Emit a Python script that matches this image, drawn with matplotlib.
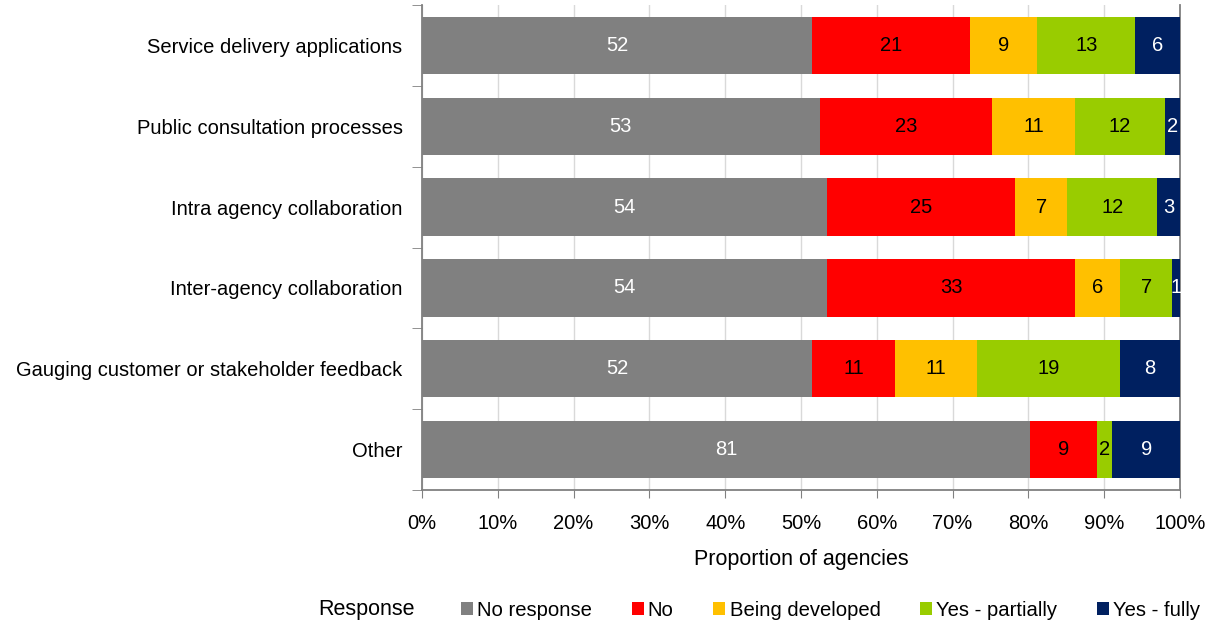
import matplotlib
matplotlib.use("Agg")
import matplotlib.pyplot as plt
import numpy as np

plt.rcParams['font.family'] = ['Liberation Sans', 'DejaVu Sans']

categories = ["Service delivery applications", "Public consultation processes",
              "Intra agency collaboration", "Inter-agency collaboration",
              "Gauging customer or stakeholder feedback", "Other"]
series_names = ["No response", "No", "Being developed", "Yes - partially", "Yes - fully"]
no_response = [52, 53, 54, 54, 52, 81]
no = [21, 23, 25, 33, 11, 9]
being_developed = [9, 11, 7, 6, 11, 0]
yes_partially = [13, 12, 12, 7, 19, 2]
yes_fully = [6, 2, 3, 1, 8, 9]
colors = ["#808080", "#ff0000", "#ffc000", "#99cc00", "#002060"]
text_colors = ["white", "black", "black", "black", "white"]

data = np.array([no_response, no, being_developed, yes_partially, yes_fully], dtype=float)
totals = data.sum(axis=0)
shares = data / totals * 100

fig = plt.figure(figsize=(12.07, 6.23), dpi=100)
ax = fig.add_axes([422/1207, 1-490/623, (1180-422)/1207, (490-5)/623])

FS = 14.5
y = np.arange(len(categories))
left = np.zeros(len(categories))
handles = []
for i, name in enumerate(series_names):
    bars = ax.barh(y, shares[i], left=left, height=0.71, color=colors[i], label=name, zorder=3)
    handles.append(bars)
    for j in range(len(categories)):
        if data[i, j] > 0:
            ax.text(left[j] + shares[i, j] / 2, y[j], f"{int(data[i, j])}",
                    ha="center", va="center", color=text_colors[i], fontsize=FS, zorder=4)
    left += shares[i]

ax.set_xlim(0, 100)
ax.set_ylim(len(categories) - 0.5, -0.5)
ax.set_xticks(np.arange(0, 101, 10))
ax.set_xticklabels([f"{v}%" for v in range(0, 101, 10)], fontsize=FS)
ax.set_yticks(y)
ax.set_yticklabels(categories, fontsize=FS)
ax.tick_params(axis='y', length=0, pad=14)
ax.set_yticks(np.arange(-0.5, len(categories), 1), minor=True)
ax.tick_params(axis='y', which='minor', length=7, color='#808080')
ax.tick_params(axis='x', length=6, color='#808080', pad=11)
ax.grid(axis='x', color='#d9d9d9', linewidth=1, zorder=0)
for s in ['left', 'bottom', 'right']:
    ax.spines[s].set_color('#808080')
    ax.spines[s].set_linewidth(1.3)
ax.spines['top'].set_visible(False)
ax.set_xlabel("Proportion of agencies", fontsize=15.5, labelpad=12)

fig.text(318/1207, 1-610/623, "Response", fontsize=15.5, va="center", ha="left")
fig.legend(handles=handles, labels=series_names, loc="center left",
           bbox_to_anchor=(461/1207, 1-610/623), ncol=5, frameon=False,
           fontsize=14.6, handlelength=0.6, handleheight=0.6, handletextpad=0.2,
           columnspacing=1.95, borderaxespad=0, borderpad=0)

fig.savefig("out.png", dpi=100)
